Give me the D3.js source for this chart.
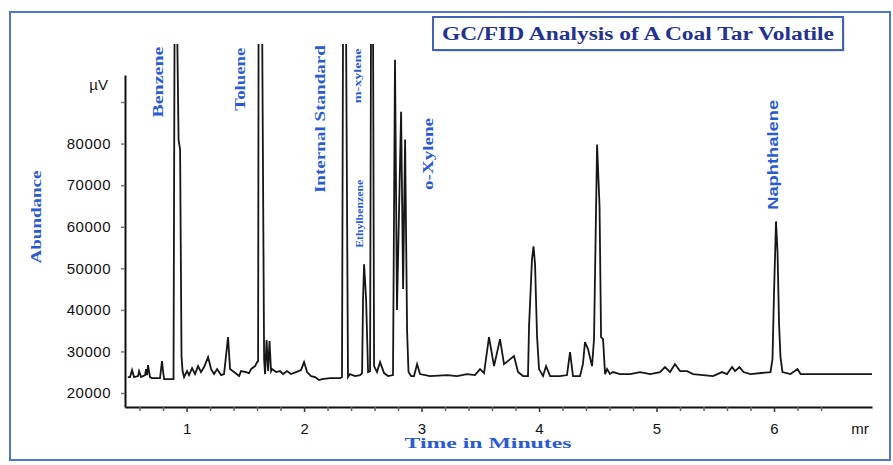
<!DOCTYPE html>
<html>
<head>
<meta charset="utf-8">
<script src="https://cdn.jsdelivr.net/npm/d3@7"></script>
<style>
  body { margin: 0; background: #fff; }
  svg { display: block; }
</style>
</head>
<body>
<svg id="chart"></svg>
<script>
const width = 893;
const height = 465;

// retention time (min) and detector response (µV)
const times = [
  0.50, 0.519, 0.536, 0.553, 0.587, 0.596, 0.613, 0.647, 0.655, 0.664, 0.672, 0.689, 0.706, 0.774, 0.783, 0.791, 0.800, 0.809, 0.877,
  0.889, 0.898, 0.919, 0.932, 0.945, 0.957, 0.966, 0.979,
  1.004, 1.021, 1.047, 1.072, 1.098, 1.123, 1.149, 1.183, 1.209, 1.234, 1.260, 1.294, 1.319, 1.353, 1.370, 1.404, 1.447, 1.464, 1.506, 1.532, 1.549, 1.583, 1.600, 1.609,
  1.613, 1.643, 1.660, 1.668, 1.681, 1.694, 1.706, 1.719, 1.728, 1.762, 1.796, 1.821, 1.855, 1.889, 1.932, 1.974, 2.000, 2.026, 2.060, 2.094, 2.128, 2.153, 2.221, 2.306, 2.323,
  2.332, 2.357, 2.374, 2.391, 2.434, 2.477, 2.494, 2.502, 2.511, 2.528, 2.545, 2.562,
  2.570, 2.587, 2.596, 2.621, 2.647, 2.681, 2.715, 2.757,
  2.774, 2.791, 2.826, 2.843, 2.860, 2.877, 2.889, 2.911, 2.936, 2.962, 2.987, 3.072, 3.217, 3.302, 3.387, 3.455, 3.498, 3.532,
  3.574, 3.617, 3.668, 3.702, 3.787, 3.821, 3.864,
  3.906, 3.915, 3.940, 3.953, 3.966, 3.983, 4.000, 4.034, 4.060, 4.094, 4.179, 4.238, 4.264, 4.289, 4.349,
  4.374, 4.391, 4.417, 4.451, 4.468, 4.494, 4.515, 4.528, 4.545, 4.562,
  4.579, 4.604, 4.630, 4.689, 4.774, 4.860, 4.946, 5.030, 5.072, 5.115, 5.157, 5.200, 5.260, 5.311, 5.481, 5.557, 5.600, 5.643, 5.668, 5.706, 5.740, 5.800,
  5.970, 5.987, 6.000, 6.017, 6.030, 6.043, 6.055, 6.072, 6.140, 6.200, 6.226, 6.311, 6.562, 6.834
];
const abundance = [
  23840, 23840, 25520, 23840, 24080, 25280, 23840, 24320, 25760, 24320, 26720, 23840, 23600, 23600, 25760, 27680, 25280, 23360, 23360,
  23360, 110000, 110000, 80960, 78560, 28880, 25280, 23840,
  25280, 24320, 26000, 24560, 26480, 25040, 26240, 28640, 25760, 24560, 25760, 24320, 24560, 33440, 25760, 25040, 24080, 25280, 25040, 24800, 25760, 26480, 27440, 27680,
  110000, 110000, 28160, 24560, 32720, 25280, 32480, 25280, 25760, 25040, 25280, 24560, 25280, 24560, 25040, 25520, 27440, 25040, 24080, 23840, 23120, 23360, 23600, 23600, 23840,
  110000, 110000, 23840, 24560, 24080, 24320, 24800, 42560, 50960, 42560, 25040, 25280,
  110000, 110000, 26480, 25040, 27440, 24800, 24080, 24320,
  100160, 40000, 87680, 45000, 80960, 34880, 25040, 24080, 24080, 26960, 24560, 24080, 24320, 24080, 24560, 24320, 25760, 24800,
  33440, 26480, 32960, 26960, 28880, 25040, 24080,
  24080, 36080, 52160, 55280, 50960, 33680, 25760, 24080, 26480, 24080, 24080, 24320, 29840, 24080, 24080,
  27000, 32240, 30560, 26480, 32960, 79760, 65000, 33440, 32960, 24560,
  25760, 24560, 25040, 24560, 24560, 25040, 24560, 25040, 26240, 25040, 26960, 25280, 25280, 24560, 24080, 25040, 24560, 26240, 25280, 26240, 25040, 24560,
  25040, 28160, 44000, 61280, 53840, 36560, 28640, 25040, 24560, 25760, 24560, 24560, 24560, 24560
];

const yTicks = [20000, 30000, 40000, 50000, 60000, 70000, 80000, 90000];
const xTicks = [1, 2, 3, 4, 5, 6];
const xMinorTicks = [0.6, 0.8, 1.2, 1.4, 1.6, 1.8, 2.2, 2.4, 2.6, 2.8, 3.2, 3.4, 3.6, 3.8,
  4.2, 4.4, 4.6, 4.8, 5.2, 5.4, 5.6, 5.8, 6.2, 6.4];

// compound labels: name, time of the label, level of the label centre (µV)
const compounds = ['Benzene', 'Toluene', 'Internal Standard', 'm-xylene', 'Ethylbenzene', 'o-Xylene', 'Naphthalene'];
const compoundTimes = [0.757, 1.455, 2.136, 2.451, 2.468, 3.055, 5.992];
const compoundLevels = [94800, 95500, 85900, 96300, 63100, 77500, 77300];

const labelBlue = '#2b5bd3';

const svg = d3.select('#chart')
  .attr('width', width)
  .attr('height', height);

// outer blue frame
svg.append('rect')
  .attr('x', 10).attr('y', 12)
  .attr('width', 880).attr('height', 448)
  .attr('fill', '#fff')
  .attr('stroke', '#5377c8')
  .attr('stroke-width', 2);

const x = d3.scaleLinear().domain([0.476, 6.834]).range([125, 872]);
const y = d3.scaleLinear().domain([16640, 96500]).range([407, 75]);

svg.append('clipPath').attr('id', 'plot-clip')
  .append('rect')
  .attr('x', 120).attr('y', 44)
  .attr('width', 760).attr('height', 370);

// trace
const points = times.map((t, i) => [t, abundance[i]]);
const line = d3.line()
  .x(d => x(d[0]))
  .y(d => y(d[1]));

svg.append('path')
  .datum(points)
  .attr('clip-path', 'url(#plot-clip)')
  .attr('fill', 'none')
  .attr('stroke', '#161616')
  .attr('stroke-width', 1.8)
  .attr('stroke-linejoin', 'miter')
  .attr('d', line);

// y axis
const yAxis = svg.append('g')
  .attr('transform', 'translate(125,0)')
  .call(d3.axisLeft(y)
    .tickValues(yTicks)
    .tickSize(4)
    .tickSizeOuter(0)
    .tickPadding(10)
    .tickFormat(d => d === 90000 ? '' : d));
yAxis.select('.domain').attr('stroke', '#111').attr('stroke-width', 2);
yAxis.selectAll('.tick line').attr('stroke', '#777').attr('stroke-width', 1.5);
yAxis.selectAll('.tick text')
  .attr('fill', '#111')
  .style('font-family', 'Liberation Sans, Arial, sans-serif')
  .style('font-size', '15px')
  .style('letter-spacing', '0.5px');

svg.append('text')
  .attr('x', 108).attr('y', 90)
  .attr('text-anchor', 'end')
  .attr('fill', '#111')
  .style('font-family', 'Liberation Sans, Arial, sans-serif')
  .style('font-size', '15px')
  .text('µV');

// x axis
const xAxis = svg.append('g')
  .attr('transform', 'translate(0,407)')
  .call(d3.axisBottom(x)
    .tickValues(xTicks)
    .tickSize(5)
    .tickSizeOuter(0)
    .tickPadding(11)
    .tickFormat(d3.format('d')));
xAxis.select('.domain').attr('stroke', '#111').attr('stroke-width', 2);
xAxis.selectAll('.tick line').attr('stroke', '#333').attr('stroke-width', 1.5);
xAxis.selectAll('.tick text')
  .attr('fill', '#111')
  .style('font-family', 'Liberation Sans, Arial, sans-serif')
  .style('font-size', '15px');

svg.append('g')
  .attr('transform', 'translate(0,407)')
  .call(d3.axisBottom(x)
    .tickValues(xMinorTicks)
    .tickSize(4)
    .tickSizeOuter(0)
    .tickFormat(''))
  .call(g => g.select('.domain').remove())
  .call(g => g.selectAll('.tick line').attr('stroke', '#666').attr('stroke-width', 1.5));

svg.append('text')
  .attr('x', 860).attr('y', 434)
  .attr('text-anchor', 'middle')
  .attr('fill', '#111')
  .style('font-family', 'Liberation Sans, Arial, sans-serif')
  .style('font-size', '15px')
  .text('mr');

// axis titles
svg.append('text')
  .attr('x', 488).attr('y', 448)
  .attr('text-anchor', 'middle')
  .attr('fill', labelBlue)
  .attr('textLength', 167)
  .attr('lengthAdjust', 'spacingAndGlyphs')
  .style('font-family', 'Liberation Serif, serif')
  .style('font-weight', 'bold')
  .style('font-size', '15px')
  .text('Time in Minutes');

svg.append('text')
  .attr('transform', 'translate(41,217) rotate(-90)')
  .attr('text-anchor', 'middle')
  .attr('fill', labelBlue)
  .attr('textLength', 93)
  .attr('lengthAdjust', 'spacingAndGlyphs')
  .style('font-family', 'Liberation Serif, serif')
  .style('font-weight', 'bold')
  .style('font-size', '15px')
  .text('Abundance');

// peak labels
const labelSizes = [15, 15, 15, 10, 10, 15, 14];
const labelLengths = [71, 63, 148, 55, 68, 72, 110];
svg.append('g')
  .selectAll('text')
  .data(compounds)
  .join('text')
  .attr('transform', (d, i) =>
    `translate(${x(compoundTimes[i]) + labelSizes[i] * 0.35},${y(compoundLevels[i])}) rotate(-90)`)
  .attr('text-anchor', 'middle')
  .attr('fill', labelBlue)
  .attr('textLength', (d, i) => labelLengths[i])
  .attr('lengthAdjust', 'spacingAndGlyphs')
  .style('font-family', d => d === 'Naphthalene' ? 'Liberation Sans, Arial, sans-serif' : 'Liberation Serif, serif')
  .style('font-weight', 'bold')
  .style('font-size', (d, i) => labelSizes[i] + 'px')
  .text(d => d);

// title box
svg.append('rect')
  .attr('x', 435).attr('y', 19)
  .attr('width', 410).attr('height', 33)
  .attr('fill', '#c8c8c8')
  .attr('opacity', 0.5);
svg.append('rect')
  .attr('x', 433).attr('y', 17)
  .attr('width', 410).attr('height', 33)
  .attr('fill', '#fff')
  .attr('stroke', '#3f63b8')
  .attr('stroke-width', 2);
svg.append('text')
  .attr('x', 638).attr('y', 40)
  .attr('text-anchor', 'middle')
  .attr('fill', '#23338f')
  .attr('textLength', 392)
  .attr('lengthAdjust', 'spacingAndGlyphs')
  .style('font-family', 'Liberation Serif, serif')
  .style('font-weight', 'bold')
  .style('font-size', '18px')
  .text('GC/FID Analysis of A Coal Tar Volatile');
</script>
</body>
</html>
